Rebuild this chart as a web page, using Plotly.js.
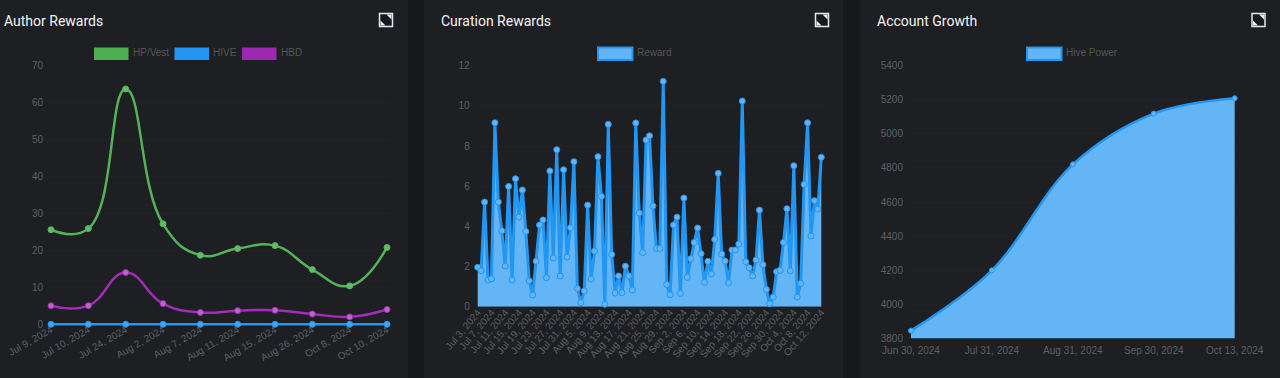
<!DOCTYPE html>
<html>
<head>
<meta charset="utf-8">
<script src="https://cdn.plot.ly/plotly-3.0.1.min.js"></script>
<style>html,body{margin:0;padding:0;background:#16181b;overflow:hidden}#chart{width:1280px;height:378px}</style>
</head>
<body>
<div id="chart"></div>
<script>
const authorDates = ["Jul 9, 2024","Jul 10, 2024","Jul 24, 2024","Aug 2, 2024","Aug 7, 2024","Aug 11, 2024","Aug 15, 2024","Aug 26, 2024","Oct 8, 2024","Oct 10, 2024"];
const hpVest = [25.6,25.9,63.7,27.2,18.7,20.5,21.3,14.8,10.4,20.8];
const hive = [0,0,0,0,0,0,0,0,0,0];
const hbd = [5,5.05,14,5.6,3.2,3.7,3.8,2.8,2.0,4.0];

const curationDates = ["Jul 3, 2024","Jul 4, 2024","Jul 5, 2024","Jul 6, 2024","Jul 7, 2024","Jul 8, 2024","Jul 9, 2024","Jul 10, 2024","Jul 11, 2024","Jul 12, 2024","Jul 13, 2024","Jul 14, 2024","Jul 15, 2024","Jul 16, 2024","Jul 17, 2024","Jul 18, 2024","Jul 19, 2024","Jul 20, 2024","Jul 21, 2024","Jul 22, 2024","Jul 23, 2024","Jul 24, 2024","Jul 25, 2024","Jul 26, 2024","Jul 27, 2024","Jul 28, 2024","Jul 29, 2024","Jul 30, 2024","Jul 31, 2024","Aug 1, 2024","Aug 2, 2024","Aug 3, 2024","Aug 5, 2024","Aug 6, 2024","Aug 7, 2024","Aug 8, 2024","Aug 9, 2024","Aug 10, 2024","Aug 11, 2024","Aug 12, 2024","Aug 13, 2024","Aug 14, 2024","Aug 15, 2024","Aug 16, 2024","Aug 17, 2024","Aug 18, 2024","Aug 19, 2024","Aug 20, 2024","Aug 21, 2024","Aug 22, 2024","Aug 23, 2024","Aug 24, 2024","Aug 25, 2024","Aug 26, 2024","Aug 27, 2024","Aug 28, 2024","Aug 29, 2024","Aug 30, 2024","Aug 31, 2024","Sep 1, 2024","Sep 2, 2024","Sep 3, 2024","Sep 4, 2024","Sep 5, 2024","Sep 6, 2024","Sep 7, 2024","Sep 8, 2024","Sep 9, 2024","Sep 10, 2024","Sep 11, 2024","Sep 12, 2024","Sep 13, 2024","Sep 14, 2024","Sep 15, 2024","Sep 16, 2024","Sep 17, 2024","Sep 18, 2024","Sep 19, 2024","Sep 20, 2024","Sep 21, 2024","Sep 22, 2024","Sep 23, 2024","Sep 24, 2024","Sep 25, 2024","Sep 26, 2024","Sep 27, 2024","Sep 28, 2024","Sep 29, 2024","Sep 30, 2024","Oct 1, 2024","Oct 2, 2024","Oct 3, 2024","Oct 4, 2024","Oct 5, 2024","Oct 6, 2024","Oct 7, 2024","Oct 8, 2024","Oct 9, 2024","Oct 10, 2024","Oct 11, 2024","Oct 12, 2024"];
const reward = [1.96,1.79,5.21,1.33,1.39,9.16,5.21,3.78,2.02,5.99,1.33,6.37,4.46,5.81,3.75,1.29,0.58,2.26,4.07,4.32,1.44,6.76,2.42,7.82,1.53,6.82,2.47,3.93,7.22,0.91,0.2,0.78,5.06,1.38,2.77,7.47,5.49,0.12,9.08,2.6,0.68,1.53,0.7,2.02,1.53,0.83,9.15,4.66,2.69,8.3,8.51,5.01,2.9,2.9,11.22,1.11,0.6,4.07,4.46,0.66,5.41,1.46,2.39,3.2,3.92,2.64,1.21,2.26,1.63,3.35,6.64,2.62,2.27,1.19,2.82,2.82,3.12,10.24,2.24,1.94,1.53,2.32,4.81,2.09,0.86,0.15,0.48,1.74,1.81,3.2,4.88,1.78,7.02,0.48,1.16,6.09,9.16,3.52,5.28,4.86,7.44];

const growthDates = ["Jun 30, 2024","Jul 31, 2024","Aug 31, 2024","Sep 30, 2024","Oct 13, 2024"];
const hivePower = [3845,4199,4821,5119,5209];

const W = 1280, H = 378, PAD = 3;
const px = v => v / W, py = v => 1 - v / H;
const cardColor = '#1d1f23', tickColor = '#5e5f63';
const tickFont = {family:'"Liberation Sans", Arial, sans-serif', size:10, color:tickColor};

// first/last are the pixel positions of the first and last category; the axis is widened by PAD so line ends are not clipped
function xAxis(first, last, count, angle, standoff, anchor, extra) {
  const step = (last - first) / (count - 1), p = PAD / step;
  return Object.assign({type:'category', domain:[px(first - PAD), px(last + PAD)], range:[-p, count - 1 + p], tickangle:angle,
    tickfont:tickFont, showgrid:false, zeroline:false, showline:false, ticks:'', ticklabelstandoff:standoff, anchor:anchor, automargin:false}, extra || {});
}
function yAxis(bottom, top, lo, hi, dtick, anchor, padBottom) {
  const span = (hi - lo) / (bottom - top);
  return {domain:[py(bottom + padBottom), py(top)], range:[lo - padBottom * span, hi], dtick:dtick, tick0:lo, tickfont:tickFont, anchor:anchor,
    showgrid:true, gridcolor:'#202226', gridwidth:1, zeroline:false, showline:false,
    ticks:'outside', ticklen:2, tickcolor:'rgba(0,0,0,0)', automargin:false};
}
function lineTrace(x, y, name, lineColor, markerColor, xa, ya, opts) {
  return Object.assign({type:'scatter', mode:'lines+markers', x:x, y:y, name:name, xaxis:xa, yaxis:ya, cliponaxis:false,
    line:{color:lineColor, width:2.5, shape:'spline', smoothing:1.3},
    marker:{color:markerColor, size:6, line:{color:lineColor, width:1}}, showlegend:false, hoverinfo:'x+y'}, opts || {});
}

const traces = [
  lineTrace(authorDates, hpVest, 'HP/Vest', '#54b358', '#66bb6a', 'x', 'y'),
  lineTrace(authorDates, hbd, 'HBD', '#a32cb8', '#ba68c8', 'x', 'y'),
  lineTrace(authorDates, hive, 'HIVE', '#2196f3', '#42a5f5', 'x', 'y'),
  lineTrace(curationDates, reward, 'Reward', '#2196f3', '#64b5f6', 'x2', 'y2',
    {fill:'tozeroy', fillcolor:'#64b5f6', line:{color:'#2196f3', width:3, shape:'linear'}}),
  lineTrace(growthDates, hivePower, 'Hive Power', '#2196f3', '#64b5f6', 'x3', 'y3',
    {fill:'tozeroy', fillcolor:'#64b5f6', line:{color:'#2196f3', width:2.5, shape:'spline', smoothing:1.0},
     marker:{color:'#64b5f6', size:5, line:{color:'#2196f3', width:1}}})
];

const shapes = [];
function rect(x0, y0, x1, y1, fill, line) {
  shapes.push({type:'rect', xref:'paper', yref:'paper', layer:'below', x0:px(x0), x1:px(x1), y0:py(y0), y1:py(y1),
    fillcolor:fill, line:line || {width:0}});
}
rect(0, 0, 408, H, cardColor);
rect(424, 0, 843, H, cardColor);
rect(860, 0, W, H, cardColor);

const annotations = [];
function label(x, y, text, font) {
  annotations.push({xref:'paper', yref:'paper', x:px(x), y:py(y), text:text, showarrow:false, xanchor:'left', yanchor:'middle',
    borderpad:0, borderwidth:0, font:font});
}
const titleFont = {family:'Roboto, sans-serif', size:14, color:'#f4f4f4', weight:400};
const legendFont = {family:'"Liberation Sans", Arial, sans-serif', size:10, color:'#55565a'};
label(4, 21.5, 'Author Rewards', titleFont);
label(440.5, 21.5, 'Curation Rewards', titleFont);
label(877, 21.5, 'Account Growth', titleFont);

function legendItem(x, text, fill, border) {
  rect(x, 47.5, x + 34.5, 60, fill, border ? {color:border, width:2} : {width:0});
  label(x + 38.5, 52.7, text, legendFont);
}
legendItem(94, 'HP/Vest', '#4caf50');
legendItem(174.5, 'HIVE', '#2196f3');
legendItem(242, 'HBD', '#9c27b0');
legendItem(598, 'Reward', '#64b5f6', '#2196f3');
legendItem(1027, 'Hive Power', '#64b5f6', '#2196f3');

function expandIcon(x, y) {
  const s = 13;
  rect(x, y, x + s, y + s, '#16181c', {color:'#e6e6f2', width:1.5});
  const tri = pts => shapes.push({type:'path', xref:'paper', yref:'paper', layer:'above', line:{width:0}, fillcolor:'#e8eef0',
    path:'M' + pts.map(p => px(p[0]) + ',' + py(p[1])).join('L') + 'Z'});
  tri([[x + s - 6, y + 1],[x + s - 1, y + 1],[x + s - 1, y + 6]]);
  tri([[x + 1, y + s - 6],[x + 6, y + s - 1],[x + 1, y + s - 1]]);
}
expandIcon(379.5, 13.5);
expandIcon(815.5, 13.5);
expandIcon(1252, 13.5);

const layout = {
  width:W, height:H, margin:{l:0, r:0, t:0, b:0},
  paper_bgcolor:'#16181b', plot_bgcolor:'rgba(0,0,0,0)', showlegend:false, hovermode:false,
  xaxis: xAxis(51, 387, authorDates.length, -30, -6, 'y'),
  yaxis: yAxis(324.3, 65.7, 0, 70, 10, 'x', 3),
  xaxis2: xAxis(477.7, 821.3, curationDates.length, -50, -3, 'y2', {tickmode:'linear', tick0:0, dtick:4}),
  yaxis2: yAxis(306.7, 65.7, 0, 12, 2, 'x2', 0),
  xaxis3: xAxis(911, 1234.7, growthDates.length, 0, 5, 'y3'),
  yaxis3: yAxis(338.3, 65.7, 3800, 5400, 200, 'x3', 0),
  shapes:shapes, annotations:annotations
};
Plotly.newPlot('chart', traces, layout, {displayModeBar:false, staticPlot:true});
</script>
</body>
</html>
